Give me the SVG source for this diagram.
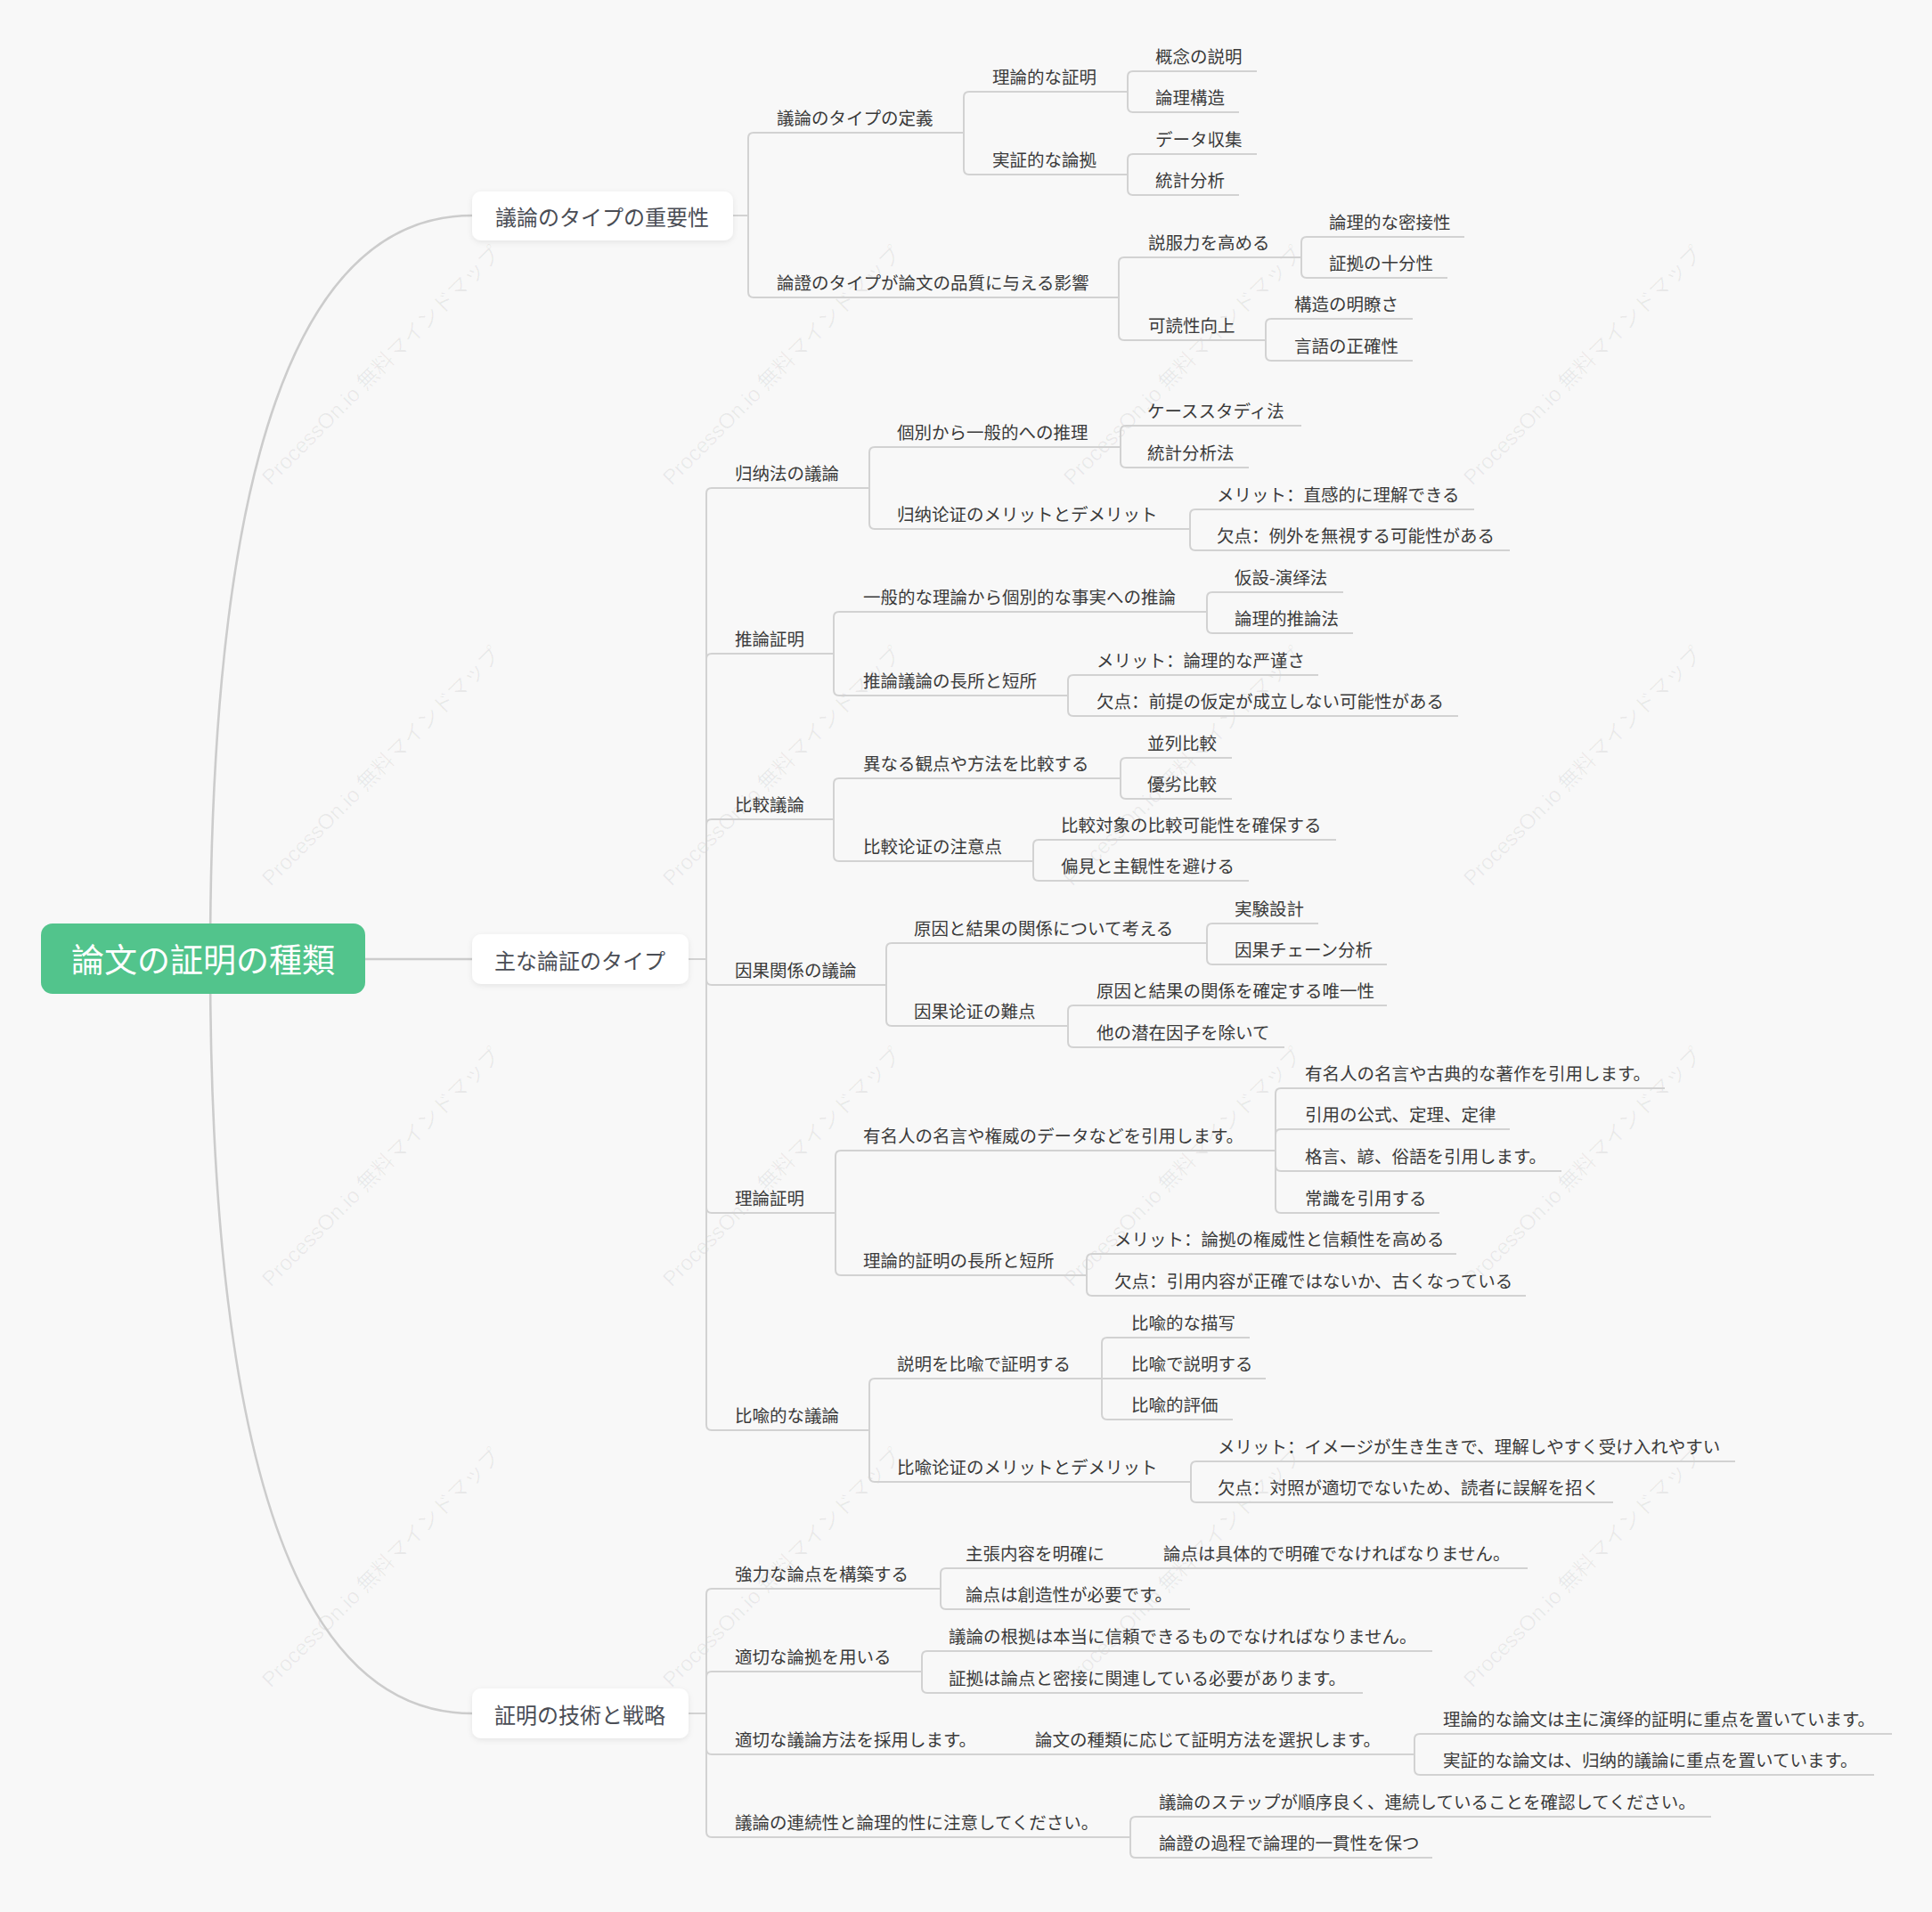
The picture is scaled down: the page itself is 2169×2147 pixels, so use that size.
<svg xmlns="http://www.w3.org/2000/svg" width="2169" height="2147" viewBox="0 0 2169 2147">
<defs>
<style>
.t{font-family:"Noto Sans CJK SC","Noto Sans CJK JP","Noto Sans",sans-serif;font-size:19.5px;fill:#3a3a3a;dominant-baseline:central}
.l1{font-family:"Noto Sans CJK SC","Noto Sans CJK JP","Noto Sans",sans-serif;font-size:24px;fill:#4a4d55;text-anchor:middle;dominant-baseline:central}
.root{font-family:"Noto Sans CJK SC","Noto Sans CJK JP","Noto Sans",sans-serif;font-size:37px;fill:#ffffff;text-anchor:middle;dominant-baseline:central}
.c path{fill:none;stroke:#d2d2d2;stroke-width:2}
.c .main{stroke:#cccccc;stroke-width:2.6}
.box{fill:#ffffff;filter:url(#sh)}
.wm{font-family:"Liberation Sans","Noto Sans CJK JP",sans-serif;font-size:24px;fill:#000000;fill-opacity:0.06}
</style>
<filter id="sh" x="-10%" y="-30%" width="120%" height="160%">
<feDropShadow dx="0" dy="2" stdDeviation="3" flood-color="#000000" flood-opacity="0.08"/>
</filter>
</defs>
<rect x="0" y="0" width="2169" height="2147" fill="#f8f8f8"/>

<g id="watermark">
<text class="wm" transform="translate(304,546) rotate(-45)">ProcessOn.io 無料マインドマップ</text>
<text class="wm" transform="translate(754,546) rotate(-45)">ProcessOn.io 無料マインドマップ</text>
<text class="wm" transform="translate(1204,546) rotate(-45)">ProcessOn.io 無料マインドマップ</text>
<text class="wm" transform="translate(1653,546) rotate(-45)">ProcessOn.io 無料マインドマップ</text>
<text class="wm" transform="translate(304,996) rotate(-45)">ProcessOn.io 無料マインドマップ</text>
<text class="wm" transform="translate(754,996) rotate(-45)">ProcessOn.io 無料マインドマップ</text>
<text class="wm" transform="translate(1204,996) rotate(-45)">ProcessOn.io 無料マインドマップ</text>
<text class="wm" transform="translate(1653,996) rotate(-45)">ProcessOn.io 無料マインドマップ</text>
<text class="wm" transform="translate(304,1446) rotate(-45)">ProcessOn.io 無料マインドマップ</text>
<text class="wm" transform="translate(754,1446) rotate(-45)">ProcessOn.io 無料マインドマップ</text>
<text class="wm" transform="translate(1204,1446) rotate(-45)">ProcessOn.io 無料マインドマップ</text>
<text class="wm" transform="translate(1653,1446) rotate(-45)">ProcessOn.io 無料マインドマップ</text>
<text class="wm" transform="translate(304,1896) rotate(-45)">ProcessOn.io 無料マインドマップ</text>
<text class="wm" transform="translate(754,1896) rotate(-45)">ProcessOn.io 無料マインドマップ</text>
<text class="wm" transform="translate(1204,1896) rotate(-45)">ProcessOn.io 無料マインドマップ</text>
<text class="wm" transform="translate(1653,1896) rotate(-45)">ProcessOn.io 無料マインドマップ</text>
</g>

<g id="connectors" class="c">
<path class="main" d="M236,1077 Q236,242 530,242"/>
<path class="main" d="M236,1077 Q236,1924 530,1924"/>
<path class="main" d="M410,1077 H530"/>
<path d="M823,242 H840"/>
<path d="M840,242 V155 Q840,149 846,149 H1082"/>
<path d="M840,242 V328 Q840,334 846,334 H1256"/>
<path d="M1082,149 V109 Q1082,103 1088,103 H1266"/>
<path d="M1082,149 V190 Q1082,196 1088,196 H1266"/>
<path d="M1266,103 V86 Q1266,80 1272,80 H1411"/>
<path d="M1266,103 V120 Q1266,126 1272,126 H1391"/>
<path d="M1266,196 V179 Q1266,173 1272,173 H1411"/>
<path d="M1266,196 V213 Q1266,219 1272,219 H1391"/>
<path d="M1256,334 V295 Q1256,289 1262,289 H1461"/>
<path d="M1256,334 V376 Q1256,382 1262,382 H1421"/>
<path d="M1461,289 V272 Q1461,266 1467,266 H1644"/>
<path d="M1461,289 V306 Q1461,312 1467,312 H1625"/>
<path d="M1421,382 V364 Q1421,358 1427,358 H1586"/>
<path d="M1421,382 V399 Q1421,405 1427,405 H1586"/>

<path d="M773,1077 H793"/>
<path d="M793,1077 V554 Q793,548 799,548 H976"/>
<path d="M793,1077 V740 Q793,734 799,734 H936"/>
<path d="M793,1077 V926 Q793,920 799,920 H936"/>
<path d="M793,1077 V1100 Q793,1106 799,1106 H995"/>
<path d="M793,1077 V1356 Q793,1362 799,1362 H938"/>
<path d="M793,1077 V1600 Q793,1606 799,1606 H976"/>
<path d="M976,548 V508 Q976,502 982,502 H1258"/>
<path d="M976,548 V588 Q976,594 982,594 H1336"/>
<path d="M1258,502 V484 Q1258,478 1264,478 H1461"/>
<path d="M1258,502 V519 Q1258,525 1264,525 H1402"/>
<path d="M1336,594 V578 Q1336,572 1342,572 H1655"/>
<path d="M1336,594 V612 Q1336,618 1342,618 H1695"/>
<path d="M936,734 V693 Q936,687 942,687 H1355"/>
<path d="M936,734 V775 Q936,781 942,781 H1199"/>
<path d="M1355,687 V671 Q1355,665 1361,665 H1508"/>
<path d="M1355,687 V705 Q1355,711 1361,711 H1519"/>
<path d="M1199,781 V764 Q1199,758 1205,758 H1480"/>
<path d="M1199,781 V798 Q1199,804 1205,804 H1637"/>
<path d="M936,920 V880 Q936,874 942,874 H1258"/>
<path d="M936,920 V961 Q936,967 942,967 H1160"/>
<path d="M1258,874 V857 Q1258,851 1264,851 H1383"/>
<path d="M1258,874 V891 Q1258,897 1264,897 H1383"/>
<path d="M1160,967 V949 Q1160,943 1166,943 H1500"/>
<path d="M1160,967 V983 Q1160,989 1166,989 H1402"/>
<path d="M995,1106 V1065 Q995,1059 1001,1059 H1355"/>
<path d="M995,1106 V1146 Q995,1152 1001,1152 H1199"/>
<path d="M1355,1059 V1043 Q1355,1037 1361,1037 H1480"/>
<path d="M1355,1059 V1077 Q1355,1083 1361,1083 H1557"/>
<path d="M1199,1152 V1135 Q1199,1129 1205,1129 H1557"/>
<path d="M1199,1152 V1170 Q1199,1176 1205,1176 H1442"/>
<path d="M938,1362 V1298 Q938,1292 944,1292 H1432"/>
<path d="M938,1362 V1426 Q938,1432 944,1432 H1220"/>
<path d="M1432,1292 V1228 Q1432,1222 1438,1222 H1869"/>
<path d="M1432,1292 V1274 Q1432,1268 1438,1268 H1695"/>
<path d="M1432,1292 V1309 Q1432,1315 1438,1315 H1753"/>
<path d="M1432,1292 V1356 Q1432,1362 1438,1362 H1616"/>
<path d="M1220,1432 V1414 Q1220,1408 1226,1408 H1635"/>
<path d="M1220,1432 V1449 Q1220,1455 1226,1455 H1713"/>
<path d="M976,1606 V1554 Q976,1548 982,1548 H1237"/>
<path d="M976,1606 V1658 Q976,1664 982,1664 H1337"/>
<path d="M1237,1548 V1508 Q1237,1502 1243,1502 H1403"/>
<path d="M1237,1548 H1421"/>
<path d="M1237,1548 V1588 Q1237,1594 1243,1594 H1384"/>
<path d="M1337,1664 V1647 Q1337,1641 1343,1641 H1948"/>
<path d="M1337,1664 V1681 Q1337,1687 1343,1687 H1811"/>

<path d="M773,1924 H793"/>
<path d="M793,1924 V1790 Q793,1784 799,1784 H1056"/>
<path d="M793,1924 V1883 Q793,1877 799,1877 H1035"/>
<path d="M793,1924 V1964 Q793,1970 799,1970 H1134"/>
<path d="M793,1924 V2057 Q793,2063 799,2063 H1269"/>
<path d="M1056,1784 V1767 Q1056,1761 1062,1761 H1274"/>
<path d="M1056,1784 V1801 Q1056,1807 1062,1807 H1336"/>
<path d="M1274,1761 H1715"/>
<path d="M1035,1877 V1860 Q1035,1854 1041,1854 H1608"/>
<path d="M1035,1877 V1895 Q1035,1901 1041,1901 H1530"/>
<path d="M1134,1970 H1588"/>
<path d="M1588,1970 V1953 Q1588,1947 1594,1947 H2124"/>
<path d="M1588,1970 V1987 Q1588,1993 1594,1993 H2104"/>
<path d="M1269,2063 V2046 Q1269,2040 1275,2040 H1921"/>
<path d="M1269,2063 V2080 Q1269,2086 1275,2086 H1608"/>
</g>

<g id="root">
<rect x="46" y="1037" width="364" height="79" rx="13" fill="#52c48c"/>
<text class="root" x="228" y="1076">論文の証明の種類</text>
</g>

<g id="n-importance">
<rect class="box" x="530" y="215" width="293" height="55" rx="10"/>
<text class="l1" x="676" y="242">議論のタイプの重要性</text>
</g>
<g id="n-main">
<rect class="box" x="530" y="1049" width="243" height="56" rx="10"/>
<text class="l1" x="651" y="1077">主な論証のタイプ</text>
</g>
<g id="n-tech">
<rect class="box" x="530" y="1896" width="243" height="56" rx="10"/>
<text class="l1" x="651" y="1924">証明の技術と戦略</text>
</g>

<g id="nodes" transform="translate(0,-1.5)">
<g id="n1"><text class="t" x="872" y="133">議論のタイプの定義</text></g>
<g id="n2"><text class="t" x="1114" y="87">理論的な証明</text></g>
<g id="n3"><text class="t" x="1297" y="64">概念の説明</text></g>
<g id="n4"><text class="t" x="1297" y="110">論理構造</text></g>
<g id="n5"><text class="t" x="1114" y="180">実証的な論拠</text></g>
<g id="n6"><text class="t" x="1297" y="157">データ収集</text></g>
<g id="n7"><text class="t" x="1297" y="203">統計分析</text></g>
<g id="n8"><text class="t" x="872" y="318">論證のタイプが論文の品質に与える影響</text></g>
<g id="n9"><text class="t" x="1289" y="273">説服力を高める</text></g>
<g id="n10"><text class="t" x="1492" y="250">論理的な密接性</text></g>
<g id="n11"><text class="t" x="1492" y="296">証拠の十分性</text></g>
<g id="n12"><text class="t" x="1289" y="366">可読性向上</text></g>
<g id="n13"><text class="t" x="1453" y="342">構造の明瞭さ</text></g>
<g id="n14"><text class="t" x="1453" y="389">言語の正確性</text></g>

<g id="n15"><text class="t" x="825" y="532">归纳法の議論</text></g>
<g id="n16"><text class="t" x="1007" y="486">個別から一般的への推理</text></g>
<g id="n17"><text class="t" x="1288" y="462">ケーススタディ法</text></g>
<g id="n18"><text class="t" x="1288" y="509">統計分析法</text></g>
<g id="n19"><text class="t" x="1007" y="578">归纳论证のメリットとデメリット</text></g>
<g id="n20"><text class="t" x="1366" y="556">メリット：直感的に理解できる</text></g>
<g id="n21"><text class="t" x="1366" y="602">欠点：例外を無視する可能性がある</text></g>
<g id="n22"><text class="t" x="825" y="718">推論証明</text></g>
<g id="n23"><text class="t" x="969" y="671">一般的な理論から個別的な事実への推論</text></g>
<g id="n24"><text class="t" x="1386" y="649">仮設-演绎法</text></g>
<g id="n25"><text class="t" x="1386" y="695">論理的推論法</text></g>
<g id="n26"><text class="t" x="969" y="765">推論議論の長所と短所</text></g>
<g id="n27"><text class="t" x="1231" y="742">メリット：論理的な严谨さ</text></g>
<g id="n28"><text class="t" x="1231" y="788">欠点：前提の仮定が成立しない可能性がある</text></g>
<g id="n29"><text class="t" x="825" y="904">比較議論</text></g>
<g id="n30"><text class="t" x="969" y="858">異なる観点や方法を比較する</text></g>
<g id="n31"><text class="t" x="1288" y="835">並列比較</text></g>
<g id="n32"><text class="t" x="1288" y="881">優劣比較</text></g>
<g id="n33"><text class="t" x="969" y="951">比較论证の注意点</text></g>
<g id="n34"><text class="t" x="1191" y="927">比較対象の比較可能性を確保する</text></g>
<g id="n35"><text class="t" x="1191" y="973">偏見と主観性を避ける</text></g>
<g id="n36"><text class="t" x="825" y="1090">因果関係の議論</text></g>
<g id="n37"><text class="t" x="1026" y="1043">原因と結果の関係について考える</text></g>
<g id="n38"><text class="t" x="1386" y="1021">実験設計</text></g>
<g id="n39"><text class="t" x="1386" y="1067">因果チェーン分析</text></g>
<g id="n40"><text class="t" x="1026" y="1136">因果论证の難点</text></g>
<g id="n41"><text class="t" x="1231" y="1113">原因と結果の関係を確定する唯一性</text></g>
<g id="n42"><text class="t" x="1231" y="1160">他の潜在因子を除いて</text></g>
<g id="n43"><text class="t" x="825" y="1346">理論証明</text></g>
<g id="n44"><text class="t" x="969" y="1276">有名人の名言や権威のデータなどを引用します。</text></g>
<g id="n45"><text class="t" x="1465" y="1206">有名人の名言や古典的な著作を引用します。</text></g>
<g id="n46"><text class="t" x="1465" y="1252">引用の公式、定理、定律</text></g>
<g id="n47"><text class="t" x="1465" y="1299">格言、諺、俗語を引用します。</text></g>
<g id="n48"><text class="t" x="1465" y="1346">常識を引用する</text></g>
<g id="n49"><text class="t" x="969" y="1416">理論的証明の長所と短所</text></g>
<g id="n50"><text class="t" x="1251" y="1392">メリット：論拠の権威性と信頼性を高める</text></g>
<g id="n51"><text class="t" x="1251" y="1439">欠点：引用内容が正確ではないか、古くなっている</text></g>
<g id="n52"><text class="t" x="825" y="1590">比喩的な議論</text></g>
<g id="n53"><text class="t" x="1007" y="1532">説明を比喩で証明する</text></g>
<g id="n54"><text class="t" x="1270" y="1486">比喩的な描写</text></g>
<g id="n55"><text class="t" x="1270" y="1532">比喩で説明する</text></g>
<g id="n56"><text class="t" x="1270" y="1578">比喩的評価</text></g>
<g id="n57"><text class="t" x="1007" y="1648">比喩论证のメリットとデメリット</text></g>
<g id="n58"><text class="t" x="1367" y="1625">メリット：イメージが生き生きで、理解しやすく受け入れやすい</text></g>
<g id="n59"><text class="t" x="1367" y="1671">欠点：対照が適切でないため、読者に誤解を招く</text></g>

<g id="n60"><text class="t" x="825" y="1768">強力な論点を構築する</text></g>
<g id="n61"><text class="t" x="1084" y="1745">主張内容を明確に</text></g>
<g id="n62"><text class="t" x="1306" y="1745">論点は具体的で明確でなければなりません。</text></g>
<g id="n63"><text class="t" x="1084" y="1791">論点は創造性が必要です。</text></g>
<g id="n64"><text class="t" x="825" y="1861">適切な論拠を用いる</text></g>
<g id="n65"><text class="t" x="1065" y="1838">議論の根拠は本当に信頼できるものでなければなりません。</text></g>
<g id="n66"><text class="t" x="1065" y="1885">証拠は論点と密接に関連している必要があります。</text></g>
<g id="n67"><text class="t" x="825" y="1954">適切な議論方法を採用します。</text></g>
<g id="n68"><text class="t" x="1162" y="1954">論文の種類に応じて証明方法を選択します。</text></g>
<g id="n69"><text class="t" x="1620" y="1931">理論的な論文は主に演绎的証明に重点を置いています。</text></g>
<g id="n70"><text class="t" x="1620" y="1977">実証的な論文は、归纳的議論に重点を置いています。</text></g>
<g id="n71"><text class="t" x="825" y="2047">議論の連続性と論理的性に注意してください。</text></g>
<g id="n72"><text class="t" x="1301" y="2024">議論のステップが順序良く、連続していることを確認してください。</text></g>
<g id="n73"><text class="t" x="1301" y="2070">論證の過程で論理的一貫性を保つ</text></g>
</g>
</svg>
